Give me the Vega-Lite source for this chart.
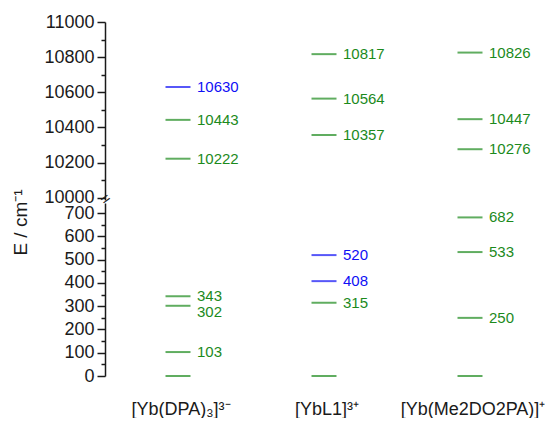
{
  "$schema": "https://vega.github.io/schema/vega-lite/v6.json",
  "padding": {"left": 11, "top": 13, "right": 0, "bottom": 0},
  "background": "white",
  "bounds": "flush",
  "config": {
    "view": {"stroke": null},
    "font": "Liberation Sans",
    "axis": {"labelFont": "Liberation Sans", "titleFont": "Liberation Sans", "grid": false}
  },
  "spacing": 3,
  "datasets": {
    "levels": [
      {"complex": "[Yb(DPA)₃]³⁻", "E": 0, "set": "A"},
      {"complex": "[Yb(DPA)₃]³⁻", "E": 103, "set": "A"},
      {"complex": "[Yb(DPA)₃]³⁻", "E": 302, "set": "A"},
      {"complex": "[Yb(DPA)₃]³⁻", "E": 343, "set": "A"},
      {"complex": "[Yb(DPA)₃]³⁻", "E": 10222, "set": "A"},
      {"complex": "[Yb(DPA)₃]³⁻", "E": 10443, "set": "A"},
      {"complex": "[Yb(DPA)₃]³⁻", "E": 10630, "set": "B"},
      {"complex": "[YbL1]³⁺", "E": 0, "set": "A"},
      {"complex": "[YbL1]³⁺", "E": 315, "set": "A"},
      {"complex": "[YbL1]³⁺", "E": 408, "set": "B"},
      {"complex": "[YbL1]³⁺", "E": 520, "set": "B"},
      {"complex": "[YbL1]³⁺", "E": 10357, "set": "A"},
      {"complex": "[YbL1]³⁺", "E": 10564, "set": "A"},
      {"complex": "[YbL1]³⁺", "E": 10817, "set": "A"},
      {"complex": "[Yb(Me2DO2PA)]⁺", "E": 0, "set": "A"},
      {"complex": "[Yb(Me2DO2PA)]⁺", "E": 250, "set": "A"},
      {"complex": "[Yb(Me2DO2PA)]⁺", "E": 533, "set": "A"},
      {"complex": "[Yb(Me2DO2PA)]⁺", "E": 682, "set": "A"},
      {"complex": "[Yb(Me2DO2PA)]⁺", "E": 10276, "set": "A"},
      {"complex": "[Yb(Me2DO2PA)]⁺", "E": 10447, "set": "A"},
      {"complex": "[Yb(Me2DO2PA)]⁺", "E": 10826, "set": "A"}
    ]
  },
  "data": {"name": "levels"},
  "vconcat": [
    {
      "width": 438,
      "height": 178,
      "transform": [{"filter": "datum.E >= 10000"}],
      "encoding": {
        "x": {
          "field": "complex", "type": "nominal",
          "sort": ["[Yb(DPA)₃]³⁻", "[YbL1]³⁺", "[Yb(Me2DO2PA)]⁺"],
          "scale": {"paddingInner": 0, "paddingOuter": 0},
          "axis": null
        },
        "color": {
          "field": "set", "type": "nominal",
          "scale": {"domain": ["A", "B"], "range": ["#1c8a1c", "#1010f5"]},
          "legend": null
        }
      },
      "layer": [
        {
          "mark": {"type": "tick", "size": 25, "thickness": 2},
          "encoding": {
            "y": {
              "field": "E", "type": "quantitative",
              "scale": {"domain": [9987, 11000], "nice": false, "zero": false},
              "axis": {
                "values": [10000, 10200, 10400, 10600, 10800, 11000],
                "format": "d", "title": null,
                "labelFontSize": 18, "labelColor": "#1a1a1a", "labelPadding": 3,
                "tickSize": 8, "tickWidth": 1.5, "tickColor": "#1a1a1a",
                "domainColor": "#1a1a1a", "domainWidth": 1.5
              }
            }
          }
        },
        {
          "mark": {"type": "text", "align": "left", "baseline": "middle", "dx": 19, "fontSize": 15},
          "encoding": {
            "y": {
              "field": "E", "type": "quantitative",
              "axis": {
                "orient": "left",
                "values": [9995, 10100, 10300, 10500, 10700, 10900],
                "title": null, "domain": false,
                "tickSize": 4, "tickWidth": 1.5,
                "tickColor": {"condition": {"test": "datum.value < 10000", "value": "transparent"}, "value": "#1a1a1a"},
                "labelExpr": "datum.value < 10000 ? '=' : ''",
                "labelAlign": "center", "labelBaseline": "middle",
                "labelPadding": -4, "labelAngle": -36,
                "labelFontSize": 16, "labelColor": "#1a1a1a"
              }
            },
            "text": {"field": "E", "type": "quantitative", "format": "d"}
          }
        }
      ],
      "resolve": {"axis": {"y": "independent"}}
    },
    {
      "width": 438,
      "height": 173,
      "transform": [{"filter": "datum.E < 10000"}],
      "encoding": {
        "x": {
          "field": "complex", "type": "nominal",
          "sort": ["[Yb(DPA)₃]³⁻", "[YbL1]³⁺", "[Yb(Me2DO2PA)]⁺"],
          "scale": {"paddingInner": 0, "paddingOuter": 0},
          "axis": {
            "orient": "bottom", "title": null, "domain": false, "ticks": false,
            "labelAngle": 0, "labelFontSize": 18, "labelColor": "#1a1a1a",
            "labelPadding": 24, "labelOffset": 3, "labelBaseline": "top"
          }
        },
        "color": {
          "field": "set", "type": "nominal",
          "scale": {"domain": ["A", "B"], "range": ["#1c8a1c", "#1010f5"]},
          "legend": null
        }
      },
      "layer": [
        {
          "mark": {"type": "tick", "size": 25, "thickness": 2},
          "encoding": {
            "y": {
              "field": "E", "type": "quantitative",
              "scale": {"domain": [0, 744], "nice": false, "zero": true},
              "axis": {
                "values": [0, 100, 200, 300, 400, 500, 600, 700],
                "format": "d",
                "title": "E / cm⁻¹", "titleFontSize": 19, "titleFontWeight": "normal",
                "titleColor": "#1a1a1a", "titleAngle": -90,
                "titleAlign": "center", "titleBaseline": "alphabetic",
                "titleX": -79, "titleY": 19,
                "labelFontSize": 18, "labelColor": "#1a1a1a", "labelPadding": 3,
                "tickSize": 8, "tickWidth": 1.5, "tickColor": "#1a1a1a",
                "domainColor": "#1a1a1a", "domainWidth": 1.5
              }
            }
          }
        },
        {
          "transform": [{"filter": "datum.E > 0 && datum.E != 302"}],
          "mark": {"type": "text", "align": "left", "baseline": "middle", "dx": 19, "fontSize": 15},
          "encoding": {
            "y": {
              "field": "E", "type": "quantitative",
              "axis": {
                "orient": "left",
                "values": [50, 150, 250, 350, 450, 550, 650],
                "title": null, "domain": false, "labels": false,
                "tickSize": 4, "tickWidth": 1.5, "tickColor": "#1a1a1a"
              }
            },
            "text": {"field": "E", "type": "quantitative", "format": "d"}
          }
        },
        {
          "transform": [{"filter": "datum.E == 302"}],
          "mark": {"type": "text", "align": "left", "baseline": "middle", "dx": 19, "dy": 6, "fontSize": 15},
          "encoding": {
            "y": {"field": "E", "type": "quantitative", "axis": null},
            "text": {"field": "E", "type": "quantitative", "format": "d"}
          }
        }
      ],
      "resolve": {"axis": {"y": "independent"}}
    }
  ]
}
